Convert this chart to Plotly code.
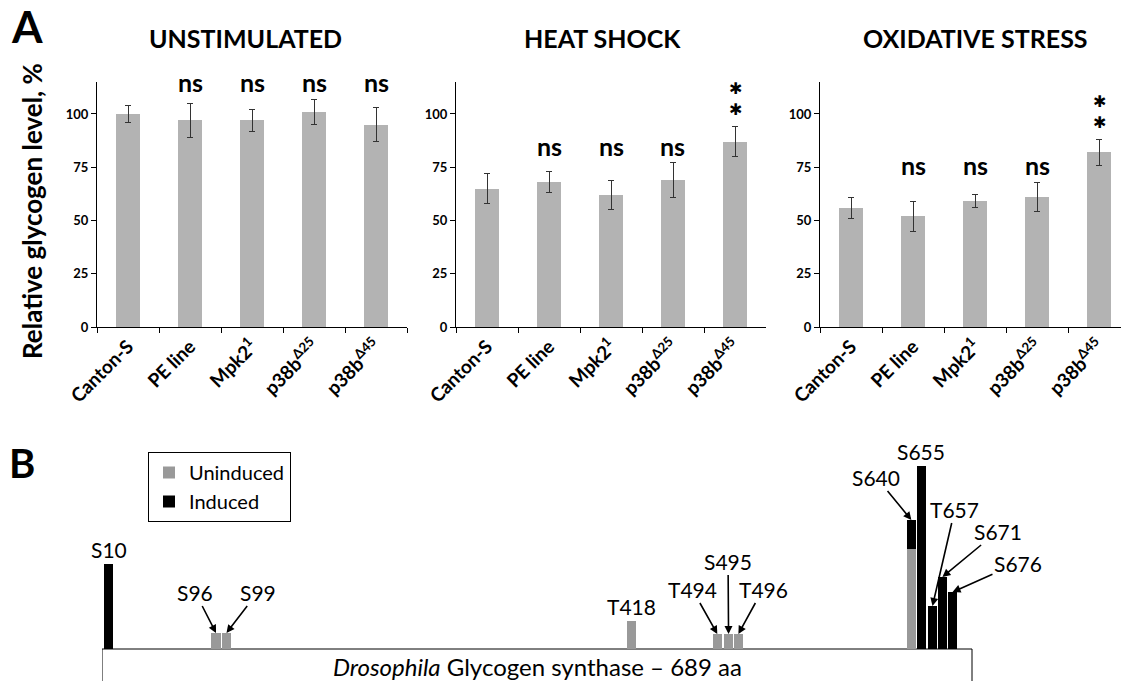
import plotly.graph_objects as go

W, H = 1121, 681

# ---------------- Panel A data ----------------
genotypes = ["Canton-S", "PE line", "Mpk2<sup>1</sup>", "p38b<sup>Δ25</sup>", "p38b<sup>Δ45</sup>"]
conditions = ["UNSTIMULATED", "HEAT SHOCK", "OXIDATIVE STRESS"]
unstim_mean = [100, 97, 97, 101, 95]
unstim_err = [4, 8, 5, 6, 8]
heat_mean = [65, 68, 62, 69, 87]
heat_err = [7, 5, 7, 8, 7]
oxid_mean = [56, 52, 59, 61, 82]
oxid_err = [5, 7, 3, 7, 6]
unstim_sig = ["", "ns", "ns", "ns", "ns"]
heat_sig = ["", "ns", "ns", "ns", "**"]
oxid_sig = ["", "ns", "ns", "ns", "**"]
y_ticks = [0, 25, 50, 75, 100]
y_max = 115

# ---------------- Panel B data ----------------
sites = ["S10", "S96", "S99", "T418", "T494", "S495", "T496", "S640", "S655", "T657", "S671", "S676"]
site_pos = [5.5, 90.3, 98.6, 419, 487.3, 496.2, 504, 641, 649, 657.7, 665.6, 673.6]
uninduced = [0, 16, 16, 28, 15, 15, 15, 100, 0, 0, 0, 0]
induced = [85, 0, 0, 0, 0, 0, 0, 29, 183, 43, 72, 57]
protein_len = 689
protein_name = "<i>Drosophila</i> Glycogen synthase – 689 aa"

FONT = "Lato"


def px_x(p):
    return p / W


def px_y(p):
    return 1 - p / H


fig = go.Figure()

means = [unstim_mean, heat_mean, oxid_mean]
errs = [unstim_err, heat_err, oxid_err]
sigs = [unstim_sig, heat_sig, oxid_sig]
xdoms = [(97, 407), (456, 766), (820, 1121)]
cat_px = 62.0
ydom = [px_y(327), px_y(82)]


def val_to_paper(v):
    return ydom[0] + (ydom[1] - ydom[0]) * v / y_max


def cat_to_paper(i, k):
    d0, _ = xdoms[i]
    return px_x(d0 + (k + 0.5) * cat_px)


annotations = []
for i in range(3):
    n = str(i + 1) if i > 0 else ""
    xa = "x" + n
    ya = "y" + n
    fig.add_trace(go.Bar(
        x=genotypes, y=means[i], width=0.4,
        marker=dict(color="#b3b3b3", line=dict(width=0)),
        error_y=dict(type="data", array=errs[i], color="#333333", thickness=1, width=3),
        xaxis=xa, yaxis=ya, showlegend=False,
    ))
    d0, d1 = xdoms[i]
    xr_end = -0.5 + (d1 - d0) / cat_px
    fig.update_layout(**{
        "xaxis" + n: dict(
            domain=[px_x(d0), px_x(d1)], range=[-0.5, xr_end], type="category",
            showline=True, linecolor="black", linewidth=1,
            ticks="outside", ticklen=5, tickcolor="black", tickson="boundaries",
            tickangle=-45, tickfont=dict(family=FONT, size=19, color="black", weight="bold"),
            showgrid=False, zeroline=False, anchor=ya, automargin=False,
        ),
        "yaxis" + n: dict(
            domain=ydom, range=[0, y_max], tickvals=y_ticks,
            showline=True, linecolor="black", linewidth=1,
            ticks="outside", ticklen=5, tickcolor="black",
            tickfont=dict(family=FONT, size=13, color="black", weight="bold"),
            showgrid=False, zeroline=False, anchor=xa, automargin=False,
        ),
    })
    # titles
    annotations.append(dict(
        text="<b>%s</b>" % conditions[i], xref="paper", yref="paper",
        x=px_x([245, 602, 975][i]), y=px_y(38), showarrow=False,
        font=dict(family=FONT, size=25, color="black"), xanchor="center", yanchor="middle",
    ))
    # significance labels
    tops = [m + e for m, e in zip(means[i], errs[i])]
    ns_level = max(t for t, s in zip(tops, sigs[i]) if s == "ns") + 8.0
    for k, (s, t) in enumerate(zip(sigs[i], tops)):
        if s == "ns":
            annotations.append(dict(
                text="<b>ns</b>", x=cat_to_paper(i, k), y=val_to_paper(ns_level),
                xref="paper", yref="paper", showarrow=False,
                font=dict(family=FONT, size=25, color="black"),
                xanchor="center", yanchor="middle",
            ))
        elif s == "**":
            annotations.append(dict(
                text="✱<br>✱", x=cat_to_paper(i, k), y=val_to_paper(t + 13),
                xref="paper", yref="paper", showarrow=False,
                font=dict(family="DejaVu Sans", size=16, color="black", weight="bold"),
                xanchor="center", yanchor="middle",
            ))

# y-axis title & panel letters
annotations.append(dict(
    text="<b>Relative glycogen level, %</b>", xref="paper", yref="paper",
    x=px_x(32), y=px_y(211), showarrow=False, textangle=-90,
    xanchor="center", yanchor="middle",
    font=dict(family=FONT, size=26, color="black"),
))
annotations.append(dict(
    text="<b>A</b>", xref="paper", yref="paper", x=px_x(27), y=px_y(26), showarrow=False,
    xanchor="center", yanchor="middle",
    font=dict(family=FONT, size=44, color="black"),
))
annotations.append(dict(
    text="<b>B</b>", xref="paper", yref="paper", x=px_x(22), y=px_y(463), showarrow=False,
    xanchor="center", yanchor="middle",
    font=dict(family=FONT, size=40, color="black"),
))

# ---------------- Panel B ----------------
bx0, bx1 = 102, 972
scale = (bx1 - bx0) / protein_len
xr4 = (W - bx0) / scale
base_px = 649
top_px = 420
fig.add_trace(go.Bar(
    x=site_pos, y=uninduced, width=7.2, name="Uninduced",
    marker=dict(color="#999999", line=dict(width=0)), xaxis="x4", yaxis="y4",
))
fig.add_trace(go.Bar(
    x=site_pos, y=induced, width=7.2, name="Induced",
    marker=dict(color="black", line=dict(width=0)), xaxis="x4", yaxis="y4",
))
fig.update_layout(
    xaxis4=dict(domain=[px_x(bx0), 1], range=[0, xr4], visible=False, anchor="y4",
                automargin=False),
    yaxis4=dict(domain=[0, px_y(top_px)], range=[-(H - base_px), base_px - top_px],
                visible=False, anchor="x4", automargin=False),
)

fig.add_shape(type="rect", xref="x4", yref="y4", x0=0, x1=protein_len, y0=-60, y1=0,
              line=dict(color="black", width=1), fillcolor="white", layer="below")
annotations.append(dict(
    text=protein_name, xref="x4", yref="y4", x=protein_len / 2, y=-17, showarrow=False,
    font=dict(family=FONT, size=24, color="black"),
))

label_tail = {
    "S96": (73.7, 57), "S99": (123.5, 57),
    "T494": (467.3, 60), "S495": (495.8, 88), "T496": (523.5, 60),
    "S640": (613, 172), "T657": (675.5, 140), "S671": (709.6, 118), "S676": (725.4, 86),
}
for s, xp, u, ind in zip(sites, site_pos, uninduced, induced):
    top = u + ind
    if s in label_tail:
        ax, ay = label_tail[s]
        annotations.append(dict(
            text=s, x=xp, y=top, xref="x4", yref="y4", axref="x4", ayref="y4",
            ax=ax, ay=ay, showarrow=True, arrowhead=2, arrowsize=1, arrowwidth=1.6,
            arrowcolor="black", standoff=0,
            font=dict(family=FONT, size=21, color="black"),
        ))
    else:
        annotations.append(dict(
            text=s, x=xp, y=top, xref="x4", yref="y4", showarrow=False,
            yanchor="bottom", font=dict(family=FONT, size=21, color="black"),
        ))

fig.update_layout(
    width=W, height=H, margin=dict(l=0, r=0, t=0, b=0, autoexpand=False),
    paper_bgcolor="white", plot_bgcolor="white",
    barmode="stack", annotations=annotations,
    legend=dict(x=px_x(148), y=px_y(452), xanchor="left", yanchor="top",
                bordercolor="black", borderwidth=1, bgcolor="white",
                traceorder="normal", font=dict(family=FONT, size=20, color="black"),
                itemwidth=30, tracegroupgap=0),
    font=dict(family=FONT),
)

fig.write_html("out.html", config={"displayModeBar": False},
               post_script="document.body.style.margin='0';")
